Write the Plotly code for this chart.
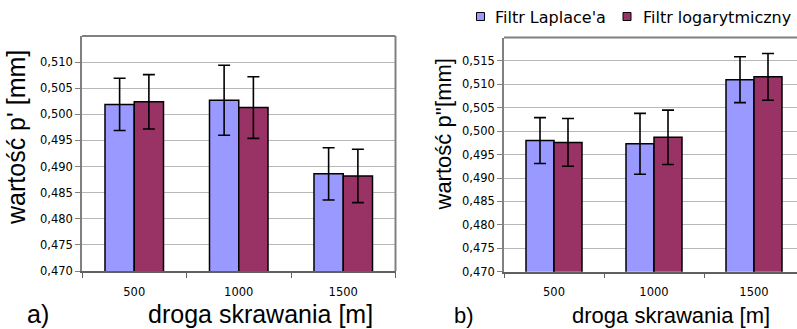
import plotly.graph_objects as go

W, H = 797, 329

categories = ["500", "1000", "1500"]
series_names = ["Filtr Laplace'a", "Filtr logarytmiczny"]
colors = ["#9999FF", "#993366"]

left_laplace = [0.5019, 0.5027, 0.4886]
left_laplace_err = [0.0050, 0.0067, 0.0050]
left_log = [0.5024, 0.5013, 0.4882]
left_log_err = [0.0052, 0.0059, 0.0051]

right_laplace = [0.4980, 0.4973, 0.5110]
right_laplace_err = [0.0049, 0.0065, 0.0049]
right_log = [0.4976, 0.4987, 0.5116]
right_log_err = [0.0051, 0.0058, 0.0050]

left_ticks = [0.470, 0.475, 0.480, 0.485, 0.490, 0.495, 0.500, 0.505, 0.510]
left_ticklabels = ["0,470", "0,475", "0,480", "0,485", "0,490", "0,495", "0,500", "0,505", "0,510"]
right_ticks = [0.470, 0.475, 0.480, 0.485, 0.490, 0.495, 0.500, 0.505, 0.510, 0.515]
right_ticklabels = ["0,470", "0,475", "0,480", "0,485", "0,490", "0,495", "0,500", "0,505", "0,510", "0,515"]

def px_x(p):
    return p / W

def px_y(p):
    return 1 - p / H

xpos = list(range(len(categories)))

fig = go.Figure()

def add_bars(vals, errs, color, name, xa, ya):
    fig.add_trace(go.Bar(
        x=xpos, y=vals, name=name, xaxis=xa, yaxis=ya, showlegend=False,
        marker=dict(color=color, line=dict(color="#000000", width=1.5)),
        error_y=dict(type="data", array=errs, visible=True, color="#000000",
                     thickness=1.6, width=6),
    ))

add_bars(left_laplace, left_laplace_err, colors[0], series_names[0], "x", "y")
add_bars(left_log, left_log_err, colors[1], series_names[1], "x", "y")
add_bars(right_laplace, right_laplace_err, colors[0], series_names[0], "x2", "y2")
add_bars(right_log, right_log_err, colors[1], series_names[1], "x2", "y2")

tickfont = dict(family="DejaVu Sans", size=11.5, color="#000000")
grid = "#b8b8b8"
axisgray = "#808080"

def xaxis_cfg(domain, rng, anchor):
    return dict(
        domain=domain, range=rng, tickvals=xpos, ticktext=categories,
        ticks="outside", ticklen=9, tickcolor="rgba(0,0,0,0)",
        tickfont=tickfont, showgrid=False, zeroline=False,
        showline=True, linecolor="#606060", linewidth=1.5,
        minor=dict(tickvals=[-0.5, 0.5, 1.5, 2.5], ticks="outside",
                   ticklen=5, tickcolor="#606060", tickwidth=1, showgrid=False),
        fixedrange=True, automargin=False, anchor=anchor,
    )

def yaxis_cfg(domain, rng, tv, tt, anchor):
    return dict(
        domain=domain, range=rng, tickvals=tv, ticktext=tt,
        ticks="outside", ticklen=5, tickcolor=axisgray, tickwidth=1,
        tickfont=tickfont, showgrid=True, gridcolor=grid, gridwidth=1.3,
        zeroline=False, showline=True, linecolor=axisgray, linewidth=1.5,
        anchor=anchor, fixedrange=True, automargin=False,
    )

L_x0, L_x1, L_y0, L_y1 = 82, 395.5, 271, 36
R_x0, R_x1, R_y0, R_y1 = 504, 797, 271.7, 37.5

fig.update_layout(
    width=W, height=H,
    margin=dict(l=0, r=0, t=0, b=0, autoexpand=False),
    paper_bgcolor="#ffffff", plot_bgcolor="#ffffff",
    barmode="group", bargap=0.44, bargroupgap=0,
    xaxis=xaxis_cfg([px_x(L_x0), px_x(L_x1)], [-0.5, 2.5], "y"),
    yaxis=yaxis_cfg([px_y(L_y0), px_y(L_y1)], [0.470, 0.515], left_ticks, left_ticklabels, "x"),
    xaxis2=xaxis_cfg([px_x(R_x0), 1.0], [-0.5, -0.5 + (R_x1 - R_x0) / 100.0], "y2"),
    yaxis2=yaxis_cfg([px_y(R_y0), px_y(R_y1)], [0.470, 0.520], right_ticks, right_ticklabels, "x2"),
    showlegend=False,
)

shapes = []
# frames (top / right borders)
shapes.append(dict(type="line", xref="paper", yref="paper",
                   x0=px_x(L_x0), x1=px_x(L_x1), y0=px_y(L_y1), y1=px_y(L_y1),
                   line=dict(color=axisgray, width=2)))
shapes.append(dict(type="line", xref="paper", yref="paper",
                   x0=px_x(L_x1), x1=px_x(L_x1), y0=px_y(L_y0), y1=px_y(L_y1),
                   line=dict(color=axisgray, width=2)))
shapes.append(dict(type="line", xref="paper", yref="paper",
                   x0=px_x(R_x0), x1=1.0, y0=px_y(R_y1), y1=px_y(R_y1),
                   line=dict(color=axisgray, width=2)))

# custom legend
leg_sq = [(476.5, 484.5), (623, 631)]
leg_text_x = [493, 641]
for (a, b), c in zip(leg_sq, colors):
    shapes.append(dict(type="rect", xref="paper", yref="paper",
                       x0=px_x(a), x1=px_x(b), y0=px_y(20.5), y1=px_y(12.5),
                       fillcolor=c, line=dict(color="#000000", width=1)))
fig.update_layout(shapes=shapes)

annotations = []
for name, tx in zip(series_names, leg_text_x):
    annotations.append(dict(text=name, x=px_x(tx), y=px_y(17.5), xref="paper", yref="paper",
                            xanchor="left", yanchor="middle", showarrow=False,
                            font=dict(family="DejaVu Sans", size=16, color="#000000")))

title_font_l = dict(family="Liberation Sans, Arial", size=25, color="#000000")
title_font_r = dict(family="Liberation Sans, Arial", size=22, color="#000000")

bottom_y = px_y(328.5)
annotations += [
    dict(text="wartość p' [mm]", x=px_x(16), y=px_y(138), xref="paper", yref="paper",
         textangle=-90, showarrow=False, font=title_font_l, xanchor="center", yanchor="middle"),
    dict(text="wartość p''[mm]", x=px_x(443), y=px_y(134.5), xref="paper", yref="paper",
         textangle=-90, showarrow=False, font=title_font_r, xanchor="center", yanchor="middle"),
    dict(text="droga skrawania [m]", x=px_x(260), y=bottom_y, xref="paper", yref="paper",
         showarrow=False, font=title_font_l, xanchor="center", yanchor="bottom", borderpad=0),
    dict(text="droga skrawania [m]", x=px_x(671), y=bottom_y, xref="paper", yref="paper",
         showarrow=False, font=title_font_r, xanchor="center", yanchor="bottom", borderpad=0),
    dict(text="a)", x=px_x(37.5), y=bottom_y, xref="paper", yref="paper",
         showarrow=False, font=title_font_l, xanchor="center", yanchor="bottom", borderpad=0),
    dict(text="b)", x=px_x(463.5), y=bottom_y, xref="paper", yref="paper",
         showarrow=False, font=title_font_r, xanchor="center", yanchor="bottom", borderpad=0),
]
fig.update_layout(annotations=annotations)

fig.write_html("out.html", config={"displayModeBar": False},
               post_script="document.body.style.margin='0';document.body.style.padding='0';document.body.style.overflow='hidden';")
